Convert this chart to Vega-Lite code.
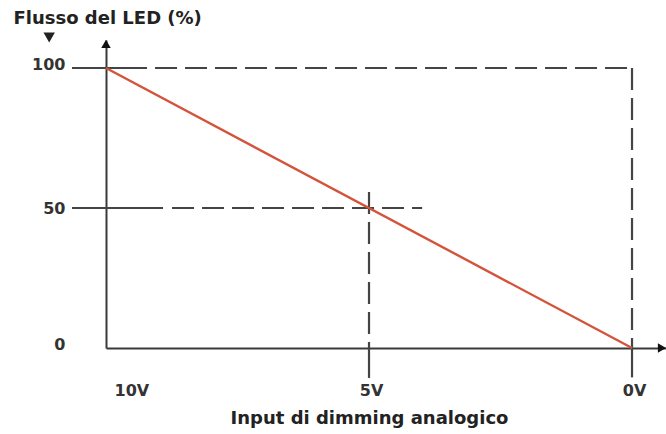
{
  "$schema": "https://vega.github.io/schema/vega-lite/v6.json",
  "autosize": "none",
  "width": 560,
  "height": 308,
  "padding": {"left": 106, "top": 40, "right": 0, "bottom": 86},
  "background": "white",
  "config": {
    "view": {"stroke": null},
    "font": "DejaVu Sans",
    "axis": {"labelFont": "DejaVu Sans", "titleFont": "DejaVu Sans", "labelColor": "#333", "titleColor": "#222", "domainColor": "#3a3a3a", "domainWidth": 2, "grid": false, "ticks": false}
  },
  "data": {
    "values": [
      {"kind": "tick", "v": 10.646, "v2": 9.22, "p": 100},
      {"kind": "tick", "v": 10.646, "v2": 8.916, "p": 50},
      {"kind": "hdash", "v": 9.068, "v2": 0, "p": 100},
      {"kind": "hdash", "v": 8.745, "v2": 3.99, "p": 50},
      {"kind": "vdash", "v": 0, "p": 100, "p2": 0},
      {"kind": "vdash", "v": 5, "p": 55.7, "p2": 0},
      {"kind": "vtick", "v": 5, "p": 0, "p2": -10.7},
      {"kind": "vtick", "v": 0, "p": 0, "p2": -10.5},
      {"kind": "flux", "v": 10, "p": 100},
      {"kind": "flux", "v": 0, "p": 0},
      {"kind": "arrowUp", "v": 10, "p": 108.6},
      {"kind": "arrowRight", "v": -0.57, "p": 0},
      {"kind": "marker", "v": 11.08, "p": 110.9}
    ]
  },
  "encoding": {
    "x": {
      "field": "v", "type": "quantitative",
      "scale": {"domain": [-0.646, 10], "reverse": true, "nice": false, "zero": false},
      "axis": {
        "title": "Input di dimming analogico",
        "values": [10, 5, 0],
        "labelExpr": "datum.value + 'V'",
        "labelFontSize": 16, "labelFontWeight": "bold",
        "labelBaseline": "middle",
        "labelPadding": 42,
        "labelOffset": {"condition": {"test": "datum.value == 10", "value": 8}, "value": 2},
        "titleFontSize": 18, "titleFontWeight": "bold",
        "titleX": 263, "titleY": 70, "titleAlign": "center", "titleBaseline": "middle"
      }
    },
    "y": {
      "field": "p", "type": "quantitative",
      "scale": {"domain": [0, 110], "nice": false, "zero": false},
      "axis": {
        "title": "Flusso del LED (%)",
        "values": [0, 50, 100],
        "labelFontSize": 16, "labelFontWeight": "bold",
        "labelPadding": 41,
        "labelOffset": {"condition": {"test": "datum.value == 50", "value": 0}, "value": -4},
        "titleFontSize": 18, "titleFontWeight": "bold",
        "titleAngle": 0, "titleAlign": "left", "titleBaseline": "middle",
        "titleX": -93, "titleY": -22
      }
    }
  },
  "layer": [
    {
      "transform": [{"filter": "datum.kind == 'tick'"}],
      "mark": {"type": "rule", "color": "#444", "strokeWidth": 2.2},
      "encoding": {"x2": {"field": "v2"}}
    },
    {
      "transform": [{"filter": "datum.kind == 'hdash'"}],
      "mark": {"type": "rule", "color": "#444", "strokeWidth": 2.2, "strokeDash": [22, 8]},
      "encoding": {"x2": {"field": "v2"}}
    },
    {
      "transform": [{"filter": "datum.kind == 'vdash'"}],
      "mark": {"type": "rule", "color": "#444", "strokeWidth": 2.2, "strokeDash": [22, 8]},
      "encoding": {"y2": {"field": "p2"}}
    },
    {
      "transform": [{"filter": "datum.kind == 'vtick'"}],
      "mark": {"type": "rule", "color": "#444", "strokeWidth": 2.2},
      "encoding": {"y2": {"field": "p2"}}
    },
    {
      "transform": [{"filter": "datum.kind == 'flux'"}],
      "mark": {"type": "line", "color": "#d4533b", "strokeWidth": 2.4},
      "encoding": {}
    },
    {
      "transform": [{"filter": "datum.kind == 'arrowUp'"}],
      "mark": {"type": "point", "shape": "triangle-up", "filled": true, "color": "#111", "size": 90, "opacity": 1},
      "encoding": {}
    },
    {
      "transform": [{"filter": "datum.kind == 'arrowRight'"}],
      "mark": {"type": "point", "shape": "triangle-right", "filled": true, "color": "#111", "size": 90, "opacity": 1},
      "encoding": {}
    },
    {
      "transform": [{"filter": "datum.kind == 'marker'"}],
      "mark": {"type": "point", "shape": "triangle-down", "filled": true, "color": "#222", "size": 130, "opacity": 1},
      "encoding": {}
    }
  ]
}
